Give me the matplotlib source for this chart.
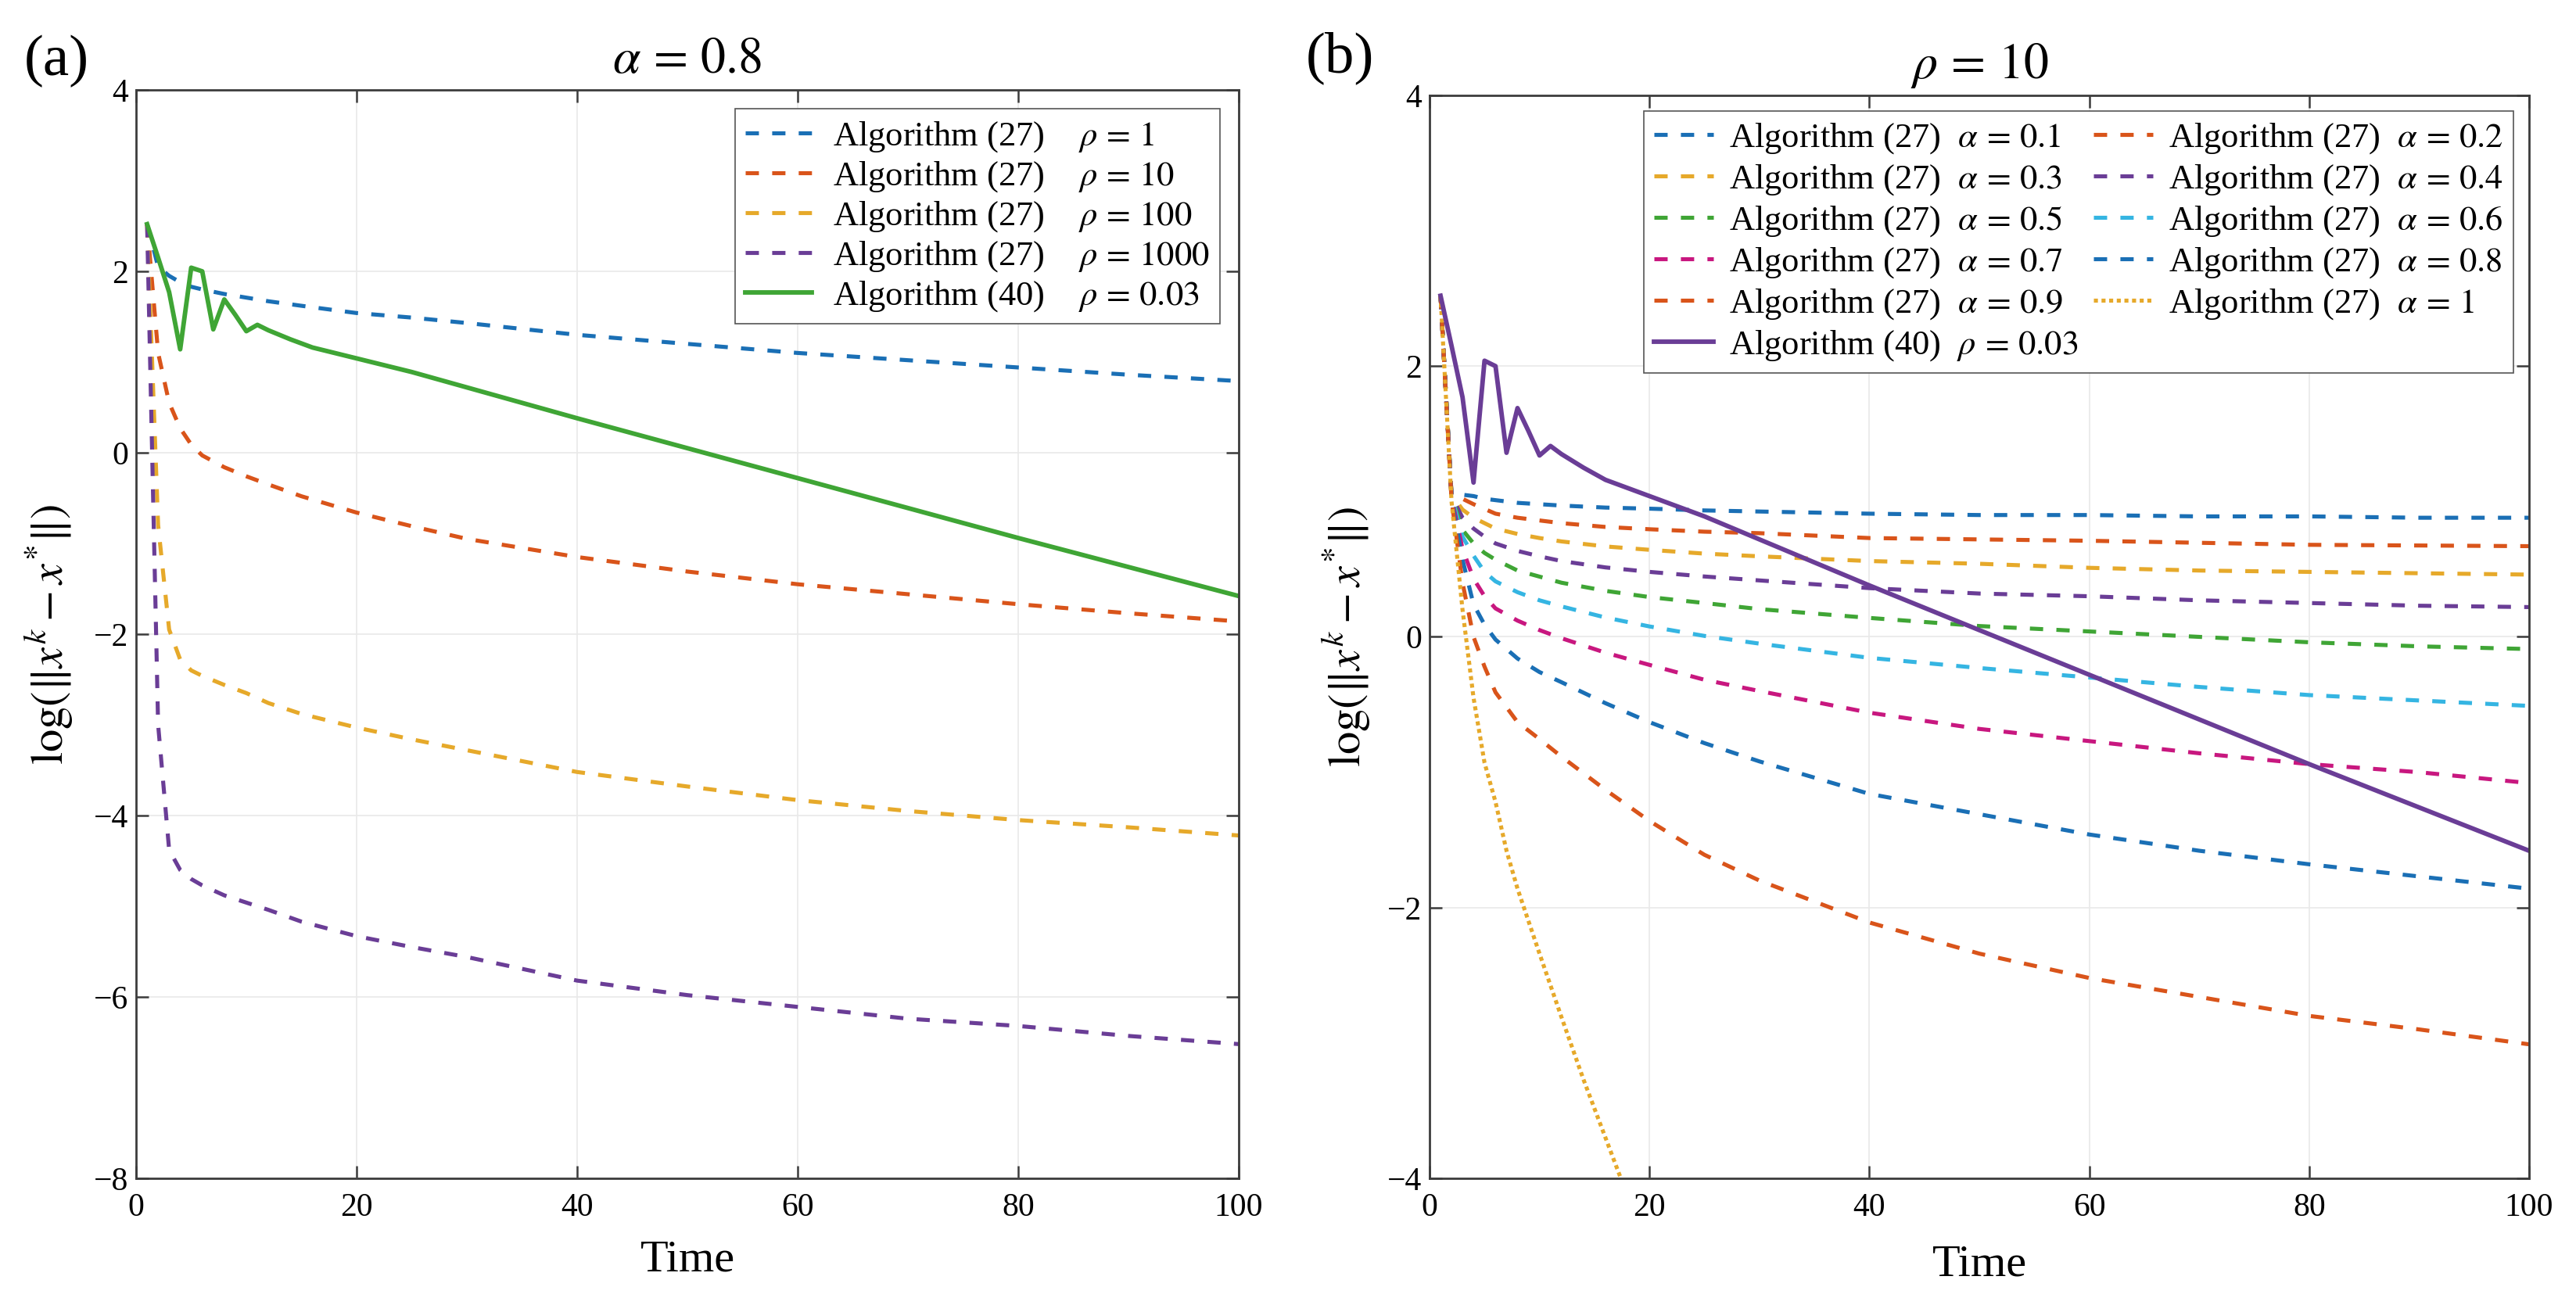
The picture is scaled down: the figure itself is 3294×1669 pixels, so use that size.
import matplotlib
matplotlib.use("Agg")
import matplotlib.pyplot as plt

plt.rcParams['font.family'] = ['Liberation Serif', 'DejaVu Serif']
plt.rcParams['mathtext.fontset'] = 'stix'
plt.rcParams['axes.unicode_minus'] = True

# ---------------- data: panel (a), alpha = 0.8 ----------------
t_left = [1, 2, 3, 4, 5, 6, 8, 10, 12, 15, 20, 25, 30, 40, 50, 60, 70, 80, 90, 100]
rho_1 = [2.52, 2.05, 1.95, 1.88, 1.83, 1.80, 1.75, 1.71, 1.67, 1.62, 1.54, 1.49, 1.43, 1.30, 1.20, 1.10, 1.02, 0.94, 0.86, 0.79]
rho_10 = [2.52, 1.10, 0.55, 0.27, 0.09, -0.03, -0.16, -0.26, -0.35, -0.48, -0.66, -0.81, -0.95, -1.15, -1.31, -1.45, -1.56, -1.67, -1.77, -1.86]
rho_100 = [2.52, -0.80, -1.95, -2.28, -2.40, -2.46, -2.56, -2.65, -2.76, -2.88, -3.03, -3.16, -3.28, -3.52, -3.68, -3.83, -3.95, -4.05, -4.13, -4.22]
rho_1000 = [2.52, -3.00, -4.38, -4.60, -4.70, -4.77, -4.88, -4.96, -5.04, -5.17, -5.33, -5.45, -5.56, -5.82, -5.98, -6.11, -6.24, -6.32, -6.43, -6.52]

# Algorithm (40), rho = 0.03 (same in both panels)
t_alg40 = [1, 2, 3, 4, 5, 6, 7, 8, 9, 10, 11, 12, 13, 14, 16, 18, 20, 22, 25, 30, 40, 50, 60, 70, 80, 90, 100]
alg40 = [2.52, 2.15, 1.77, 1.14, 2.04, 2.00, 1.36, 1.69, 1.52, 1.34, 1.41, 1.35, 1.30, 1.25, 1.16, 1.10, 1.04, 0.98, 0.89, 0.72, 0.38, 0.05, -0.28, -0.61, -0.94, -1.26, -1.58]

# ---------------- data: panel (b), rho = 10 ----------------
t_right = [1, 2, 3, 4, 5, 6, 8, 10, 12, 16, 20, 25, 30, 40, 50, 60, 70, 80, 90, 100]
a_01 = [2.52, 1.05, 1.05, 1.04, 1.02, 1.01, 0.99, 0.98, 0.97, 0.955, 0.947, 0.934, 0.926, 0.91, 0.90, 0.90, 0.89, 0.89, 0.88, 0.88]
a_02 = [2.52, 1.05, 1.02, 0.98, 0.945, 0.91, 0.88, 0.86, 0.84, 0.812, 0.795, 0.777, 0.766, 0.73, 0.72, 0.71, 0.695, 0.68, 0.675, 0.67]
a_03 = [2.52, 1.05, 0.94, 0.88, 0.84, 0.80, 0.76, 0.73, 0.705, 0.668, 0.643, 0.615, 0.595, 0.56, 0.54, 0.51, 0.49, 0.48, 0.47, 0.46]
a_04 = [2.52, 1.04, 0.88, 0.80, 0.74, 0.69, 0.635, 0.595, 0.56, 0.513, 0.48, 0.446, 0.417, 0.36, 0.32, 0.30, 0.27, 0.25, 0.23, 0.22]
a_05 = [2.52, 1.04, 0.79, 0.69, 0.62, 0.57, 0.49, 0.445, 0.40, 0.34, 0.294, 0.25, 0.205, 0.14, 0.08, 0.04, 0.00, -0.04, -0.07, -0.09]
a_06 = [2.52, 1.04, 0.74, 0.60, 0.48, 0.41, 0.33, 0.27, 0.225, 0.143, 0.077, 0.007, -0.05, -0.155, -0.23, -0.30, -0.37, -0.43, -0.47, -0.51]
a_07 = [2.52, 1.03, 0.65, 0.43, 0.30, 0.21, 0.12, 0.05, -0.01, -0.117, -0.207, -0.317, -0.40, -0.56, -0.68, -0.77, -0.86, -0.94, -1.00, -1.08]
a_08 = [2.52, 1.02, 0.57, 0.24, 0.09, -0.02, -0.16, -0.26, -0.335, -0.49, -0.63, -0.785, -0.92, -1.16, -1.31, -1.46, -1.58, -1.68, -1.77, -1.86]
a_09 = [2.52, 1.01, 0.40, 0.00, -0.22, -0.41, -0.63, -0.755, -0.885, -1.13, -1.36, -1.61, -1.80, -2.11, -2.34, -2.52, -2.66, -2.80, -2.90, -3.01]
t_a10 = [1, 2, 3, 4, 5, 6, 7, 8, 10, 12, 14, 16, 18]
a_10 = [2.52, 1.00, 0.20, -0.45, -0.93, -1.22, -1.58, -1.86, -2.34, -2.81, -3.27, -3.70, -4.13]

rho_labels = ['1', '10', '100', '1000']
alpha_labels = ['0.1', '0.2', '0.3', '0.4', '0.5', '0.6', '0.7', '0.8', '0.9', '1']

# ---------------- styling ----------------
BLUE = '#1A6FB5'
ORANGE = '#D9541A'
YELLOW = '#E6A92A'
PURPLE = '#6A3D96'
GREEN = '#3FA535'
CYAN = '#35B5E2'
MAGENTA = '#C8177F'
SPINE = '#3c3c3c'
GRID = '#e9e9e9'

LW = 3.7
LW_SOLID = 4.2
DASH = (0, (3.3, 3.3))
DOT = (0, (1.0, 0.9))

W, H = 3294, 1669
fig = plt.figure(figsize=(W / 100, H / 100), dpi=100)
ax1 = fig.add_axes([174 / W, 1 - 1507 / H, 1410 / W, (1507 - 115) / H])
ax2 = fig.add_axes([1828 / W, 1 - 1507 / H, 1406 / W, (1507 - 122) / H])

TICK_FS = 30
LABEL_FS = 42
TITLE_FS = 46
LEG_FS = 32


def style_axes(ax):
    for s in ax.spines.values():
        s.set_linewidth(2.0)
        s.set_color(SPINE)
    ax.tick_params(direction='in', length=11.5, width=1.8, colors=SPINE,
                   labelcolor='black', labelsize=TICK_FS, top=True, right=True)
    ax.tick_params(axis='x', pad=13)
    ax.tick_params(axis='y', pad=7)
    ax.grid(True, color=GRID, linewidth=1.2)
    ax.set_axisbelow(True)
    ax.set_xlim(0, 100)
    ax.set_xticks([0, 20, 40, 60, 80, 100])


# ---------------- panel (a) ----------------
left_series = [rho_1, rho_10, rho_100, rho_1000]
left_colors = [BLUE, ORANGE, YELLOW, PURPLE]
for vals, c, lab in zip(left_series, left_colors, rho_labels):
    ax1.plot(t_left, vals, color=c, lw=LW, linestyle=DASH,
             label=r'Algorithm (27)    $\rho\,=\,' + lab + '$')
ax1.plot(t_alg40, alg40, color=GREEN, lw=LW_SOLID, linestyle='-',
         label=r'Algorithm (40)    $\rho\,=\,0.03$')
style_axes(ax1)
ax1.set_ylim(-8, 4)
ax1.set_yticks([-8, -6, -4, -2, 0, 2, 4])
ax1.set_title(r'$\alpha\,=\,0.8$', fontsize=TITLE_FS, pad=16)
ax1.set_xlabel('Time', fontsize=LABEL_FS)
ax1.xaxis.set_label_coords(0.5, -(1611 - 1507) / 1392)
ax1.xaxis.label.set_va('center')
ax1.set_ylabel(r'$\log(\|x^k-x^{*}\|)$', fontsize=LABEL_FS)
ax1.yaxis.set_label_coords((63 - 174) / 1410, 0.5)
ax1.yaxis.label.set_va('center')
leg1 = ax1.legend(loc='upper right', fontsize=LEG_FS, fancybox=False, framealpha=1,
                  edgecolor='#555555', borderaxespad=0.55, handlelength=1.9,
                  labelspacing=0.16, borderpad=0.3, handletextpad=0.6)
leg1.get_frame().set_linewidth(1.2)

# ---------------- panel (b) ----------------
right_series = [a_01, a_02, a_03, a_04, a_05, a_06, a_07, a_08, a_09]
right_colors = [BLUE, ORANGE, YELLOW, PURPLE, GREEN, CYAN, MAGENTA, BLUE, ORANGE]
handles = []
for vals, c, lab in zip(right_series, right_colors, alpha_labels[:9]):
    h, = ax2.plot(t_right, vals, color=c, lw=LW, linestyle=DASH,
                  label=r'Algorithm (27)  $\alpha\,=\,' + lab + '$')
    handles.append(h)
h10, = ax2.plot(t_a10, a_10, color=YELLOW, lw=LW, linestyle=DOT,
                label=r'Algorithm (27)  $\alpha\,=\,' + alpha_labels[9] + '$')
handles.append(h10)
h40, = ax2.plot(t_alg40, alg40, color=PURPLE, lw=LW_SOLID, linestyle='-',
                label=r'Algorithm (40)  $\rho\,=\,0.03$')
style_axes(ax2)
ax2.set_ylim(-4, 4)
ax2.set_yticks([-4, -2, 0, 2, 4])
ax2.set_title(r'$\rho\,=\,10$', fontsize=TITLE_FS, pad=16)
ax2.set_xlabel('Time', fontsize=LABEL_FS)
ax2.xaxis.set_label_coords(0.5, -(1617 - 1507) / 1385)
ax2.xaxis.label.set_va('center')
ax2.set_ylabel(r'$\log(\|x^k-x^{*}\|)$', fontsize=LABEL_FS)
ax2.yaxis.set_label_coords((1722 - 1828) / 1406, 0.5)
ax2.yaxis.label.set_va('center')
order = [handles[0], handles[2], handles[4], handles[6], handles[8], h40,
         handles[1], handles[3], handles[5], handles[7], handles[9]]
leg2 = ax2.legend(handles=order, labels=[h.get_label() for h in order], ncol=2,
                  loc='upper right', fontsize=LEG_FS, fancybox=False, framealpha=1,
                  edgecolor='#555555', borderaxespad=0.45, handlelength=1.7,
                  labelspacing=0.2, borderpad=0.3, handletextpad=0.45,
                  columnspacing=0.45)
leg2.get_frame().set_linewidth(1.2)

fig.text(31 / W, 1 - 78 / H, '(a)', fontsize=54, ha='left', va='center')
fig.text(1670 / W, 1 - 74 / H, '(b)', fontsize=54, ha='left', va='center')

fig.savefig('out.png', dpi=100)
